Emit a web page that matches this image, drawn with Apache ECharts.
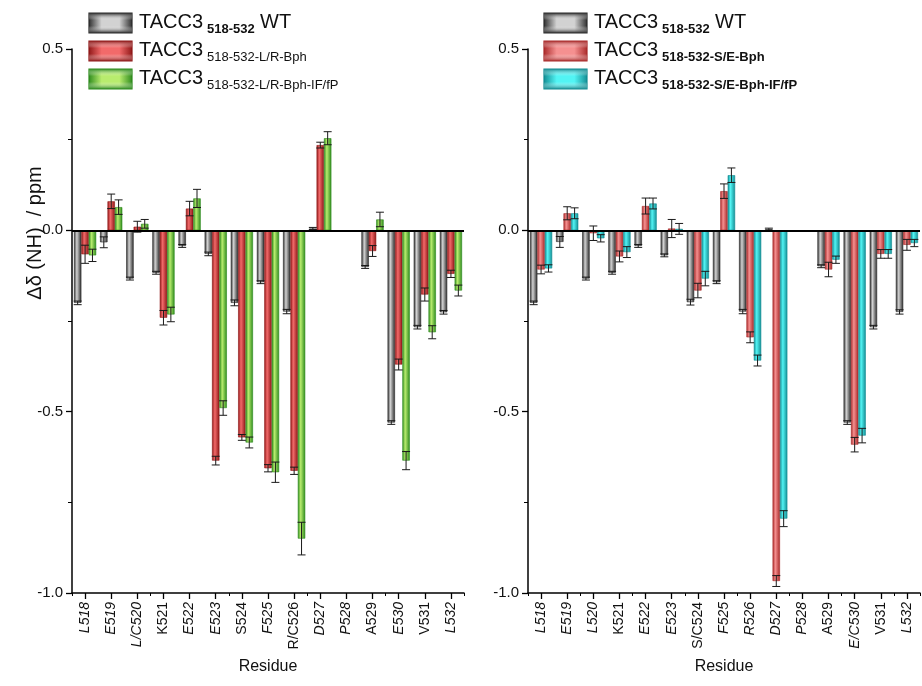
<!DOCTYPE html>
<html>
<head>
<meta charset="utf-8">
<script src="https://cdn.jsdelivr.net/npm/echarts@6/dist/echarts.min.js"></script>
<style>
  html, body { margin: 0; padding: 0; background: #fff; }
  #chart { width: 922px; height: 686px; }
</style>
</head>
<body>
<div id="chart"></div>
<script>
// Residues along the TACC3 518-532 peptide
const residuesLR = ['L518','E519','L/C520','K521','E522','E523','S524','F525','R/C526','D527','P528','A529','E530','V531','L532'];
const residuesSE = ['L518','E519','L520','K521','E522','E523','S/C524','F525','R526','D527','P528','A529','E/C530','V531','L532'];

// Chemical shift changes Δδ(NH) in ppm (null = no value, proline)
const wtLR      = [-0.200, -0.033, -0.133, -0.117, -0.043, -0.065, -0.200, -0.143, -0.224, 0.005, null, -0.101, -0.530, -0.267, -0.226];
const wtLRErr   = [0.005, 0.015, 0.004, 0.004, 0.004, 0.005, 0.008, 0.004, 0.006, 0.003, null, 0.004, 0.005, 0.005, 0.005];
const lrBph     = [-0.066, 0.080, 0.010, -0.241, 0.060, -0.635, -0.571, -0.656, -0.663, 0.235, null, -0.057, -0.370, -0.177, -0.120];
const lrBphErr  = [0.025, 0.020, 0.015, 0.020, 0.020, 0.012, 0.008, 0.010, 0.010, 0.008, null, 0.015, 0.015, 0.018, 0.010];
const lrIF      = [-0.069, 0.064, 0.018, -0.232, 0.088, -0.490, -0.585, -0.667, -0.850, 0.254, null, 0.030, -0.635, -0.281, -0.166];
const lrIFErr   = [0.017, 0.020, 0.012, 0.020, 0.025, 0.020, 0.015, 0.028, 0.045, 0.018, null, 0.020, 0.025, 0.018, 0.015];

const wtSE      = [-0.200, -0.032, -0.133, -0.117, -0.043, -0.069, -0.198, -0.143, -0.224, 0.003, null, -0.099, -0.530, -0.267, -0.225];
const wtSEErr   = [0.005, 0.015, 0.004, 0.004, 0.004, 0.004, 0.008, 0.004, 0.006, 0.003, null, 0.004, 0.005, 0.005, 0.006];
const seBph     = [-0.108, 0.047, -0.008, -0.072, 0.067, 0.005, -0.166, 0.108, -0.295, -0.967, null, -0.108, -0.591, -0.065, -0.040];
const seBphErr  = [0.012, 0.018, 0.020, 0.015, 0.022, 0.025, 0.020, 0.020, 0.015, 0.015, null, 0.020, 0.020, 0.012, 0.015];
const seIF      = [-0.105, 0.047, -0.022, -0.060, 0.074, 0.004, -0.133, 0.152, -0.359, -0.795, null, -0.081, -0.566, -0.065, -0.035];
const seIFErr   = [0.010, 0.015, 0.010, 0.015, 0.015, 0.015, 0.020, 0.020, 0.015, 0.022, null, 0.010, 0.020, 0.012, 0.010];

const yTicks = { min: -1.0, max: 0.5, step: 0.5 };

const FONT = 'Liberation Sans, Arial, sans-serif';
const GRID_W = 392, GRID_H = 544, GRID_TOP = 49;
const BAR_W = 7.4;

function grad(dark, light) {
  return new echarts.graphic.LinearGradient(0, 0, 1, 0, [
    { offset: 0, color: dark },
    { offset: 0.38, color: light },
    { offset: 1, color: dark }
  ]);
}
const palette = {
  gray:  { dark: '#2a2a2a', light: '#d2d2d2' },
  red:   { dark: '#8e1616', light: '#f26a6a' },
  pink:  { dark: '#a82828', light: '#f59090' },
  green: { dark: '#2c8a1c', light: '#b8ec6e' },
  cyan:  { dark: '#128c92', light: '#52f4f4' }
};

// residues drawn upright; the rest are set in italic
const uprightLR = new Set(['K521','S524','R/C526','A529','V531']);
const uprightSE = new Set(['K521','S/C524','A529','V531']);

function xAxes(gridIndex, cats, upright) {
  return [
    {
      type: 'category', gridIndex, data: cats, position: 'bottom',
      axisLine: { onZero: false, lineStyle: { color: '#000', width: 1.5 } },
      axisTick: { show: true, alignWithLabel: true, length: 6, lineStyle: { color: '#000', width: 1.3 } },
      axisLabel: {
        rotate: 90, interval: 0, margin: 9, fontFamily: FONT, fontSize: 14, color: '#111',
        formatter: v => upright.has(v) ? '{n|' + v + '}' : '{i|' + v + '}',
        rich: {
          n: { fontFamily: FONT, fontSize: 14, color: '#111' },
          i: { fontFamily: FONT, fontSize: 14, color: '#111', fontStyle: 'italic' }
        }
      },
      splitLine: { show: false },
      name: 'Residue', nameLocation: 'middle', nameGap: 66,
      nameTextStyle: { fontFamily: FONT, fontSize: 16, color: '#111' }
    },
    {
      // short boundary ticks between residues
      type: 'category', gridIndex, data: cats, position: 'bottom',
      axisLine: { show: false, onZero: false },
      axisTick: { show: true, alignWithLabel: false, length: 3, lineStyle: { color: '#000', width: 1 } },
      axisLabel: { show: false },
      splitLine: { show: false }
    }
  ];
}

function yAxis(gridIndex) {
  return {
    type: 'value', gridIndex, min: yTicks.min, max: yTicks.max, interval: yTicks.step,
    axisLine: { show: true, lineStyle: { color: '#000', width: 1.5 } },
    axisTick: { show: true, length: 6, lineStyle: { color: '#000', width: 1.3 } },
    minorTick: { show: true, splitNumber: 2, length: 4, lineStyle: { color: '#000', width: 1 } },
    axisLabel: { margin: 9, fontFamily: FONT, fontSize: 15, color: '#111', formatter: v => v.toFixed(1) },
    splitLine: { show: false }
  };
}

function barSeries(name, values, colors, xi, yi, withZero) {
  const s = {
    name, type: 'bar', xAxisIndex: xi, yAxisIndex: yi,
    data: values.map(v => v === null ? '-' : v),
    barWidth: BAR_W, barGap: '0%',
    itemStyle: { color: grad(colors.dark, colors.light), borderColor: colors.dark, borderWidth: 0.6 },
    z: 2
  };
  if (withZero) {
    s.markLine = {
      silent: true, symbol: 'none', label: { show: false },
      lineStyle: { color: '#000', width: 2, type: 'solid' },
      data: [{ yAxis: 0 }], z: 5
    };
  }
  return s;
}

function errSeries(values, errs, slot, xi, yi) {
  const data = [];
  values.forEach((v, i) => { if (v !== null) data.push([i, v, errs[i]]); });
  return {
    type: 'custom', xAxisIndex: xi, yAxisIndex: yi, data, z: 4, silent: true,
    encode: { x: 0, y: 1 },
    renderItem(params, api) {
      const c = api.value(0), v = api.value(1), e = api.value(2);
      const hi = api.coord([c, v + e]);
      const lo = api.coord([c, v - e]);
      const x = hi[0] + slot * BAR_W;
      const cap = 4;
      const st = { stroke: '#1a1a1a', lineWidth: 1 };
      return {
        type: 'group',
        children: [
          { type: 'line', shape: { x1: x, y1: hi[1], x2: x, y2: lo[1] }, style: st },
          { type: 'line', shape: { x1: x - cap, y1: hi[1], x2: x + cap, y2: hi[1] }, style: st },
          { type: 'line', shape: { x1: x - cap, y1: lo[1], x2: x + cap, y2: lo[1] }, style: st }
        ]
      };
    }
  };
}

// legend block: swatch + "TACC3" + subscript (+ optional suffix)
function legendRow(x0, y0, colors, sub, subBold, suffix) {
  const w = 43, h = 20;
  const children = [
    {
      type: 'rect', shape: { x: x0, y: y0, width: w, height: h },
      style: {
        fill: new echarts.graphic.LinearGradient(0, 0, 1, 0, [
          { offset: 0, color: colors.dark },
          { offset: 0.3, color: colors.light },
          { offset: 0.7, color: colors.light },
          { offset: 1, color: colors.dark }
        ]),
        stroke: colors.dark, lineWidth: 1.2
      }
    },
    {
      type: 'rect', shape: { x: x0, y: y0, width: w, height: h },
      style: {
        fill: new echarts.graphic.LinearGradient(0, 0, 0, 1, [
          { offset: 0, color: colors.dark },
          { offset: 0.35, color: 'rgba(255,255,255,0)' },
          { offset: 0.65, color: 'rgba(255,255,255,0)' },
          { offset: 1, color: colors.dark }
        ])
      }
    },
    {
      type: 'text', x: x0 + 50, y: y0 + 9,
      style: { text: 'TACC3', font: '20px ' + FONT, fill: '#111', verticalAlign: 'middle', align: 'left' }
    },
    {
      type: 'text', x: x0 + 118, y: y0 + 16,
      style: { text: sub, font: (subBold ? 'bold ' : '') + '13px ' + FONT, fill: '#111', verticalAlign: 'middle', align: 'left' }
    }
  ];
  if (suffix) {
    children.push({
      type: 'text', x: x0 + 171, y: y0 + 9,
      style: { text: suffix, font: '20px ' + FONT, fill: '#111', verticalAlign: 'middle', align: 'left' }
    });
  }
  return { type: 'group', children };
}

const chart = echarts.init(document.getElementById('chart'), null, { renderer: 'canvas' });

const option = {
  backgroundColor: '#fff',
  animation: false,
  grid: [
    { left: 72, top: GRID_TOP, width: GRID_W, height: GRID_H },
    { left: 528, top: GRID_TOP, width: GRID_W, height: GRID_H }
  ],
  xAxis: [...xAxes(0, residuesLR, uprightLR), ...xAxes(1, residuesSE, uprightSE)],
  yAxis: [yAxis(0), yAxis(1)],
  series: [
    barSeries('TACC3 518-532 WT', wtLR, palette.gray, 0, 0, true),
    barSeries('TACC3 518-532-L/R-Bph', lrBph, palette.red, 0, 0),
    barSeries('TACC3 518-532-L/R-Bph-IF/fP', lrIF, palette.green, 0, 0),
    errSeries(wtLR, wtLRErr, -1, 0, 0),
    errSeries(lrBph, lrBphErr, 0, 0, 0),
    errSeries(lrIF, lrIFErr, 1, 0, 0),

    barSeries('TACC3 518-532 WT ', wtSE, palette.gray, 2, 1, true),
    barSeries('TACC3 518-532-S/E-Bph', seBph, palette.pink, 2, 1),
    barSeries('TACC3 518-532-S/E-Bph-IF/fP', seIF, palette.cyan, 2, 1),
    errSeries(wtSE, wtSEErr, -1, 2, 1),
    errSeries(seBph, seBphErr, 0, 2, 1),
    errSeries(seIF, seIFErr, 1, 2, 1)
  ],
  graphic: [
    {
      type: 'text', x: 35, y: 233, rotation: Math.PI / 2,
      style: { text: 'Δδ (NH)  / ppm', font: '20px ' + FONT, fill: '#111', align: 'center', verticalAlign: 'middle' }
    },
    legendRow(89, 13, palette.gray, '518-532', true, 'WT'),
    legendRow(89, 41, palette.red, '518-532-L/R-Bph', false),
    legendRow(89, 69, palette.green, '518-532-L/R-Bph-IF/fP', false),
    legendRow(544, 13, palette.gray, '518-532', true, 'WT'),
    legendRow(544, 41, palette.pink, '518-532-S/E-Bph', true),
    legendRow(544, 69, palette.cyan, '518-532-S/E-Bph-IF/fP', true)
  ]
};

chart.setOption(option);
</script>
</body>
</html>
